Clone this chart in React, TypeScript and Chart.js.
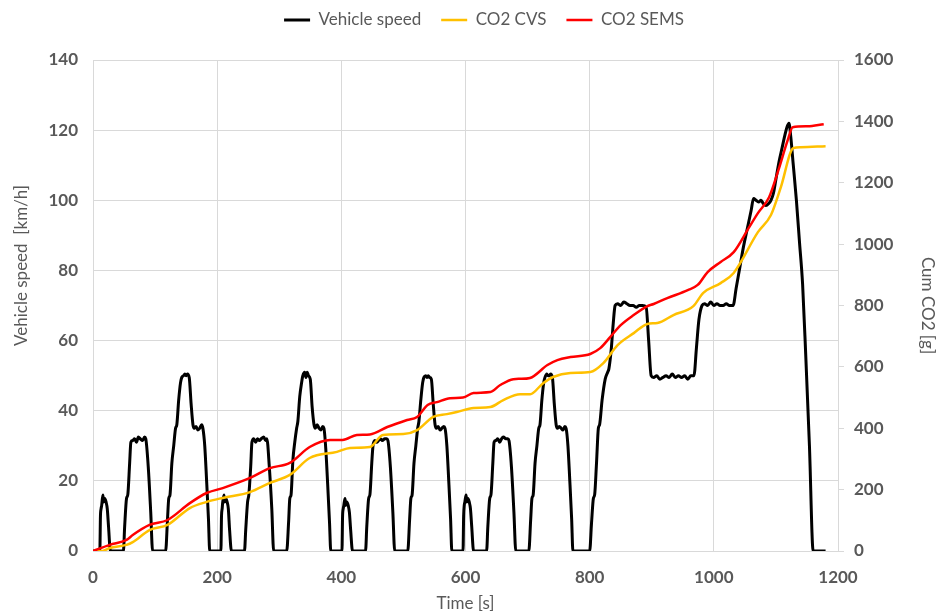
import React, { useEffect, useRef } from 'react';
import { Chart, registerables } from 'chart.js';

Chart.register(...registerables);

// Vehicle speed (NEDC-like cycle), time [s] and speed [km/h]
const speedTime = [
  0, 11, 12, 13, 14, 16, 17, 19, 21, 23, 25, 28,
  49, 51, 54, 56, 59, 61, 64, 67, 70, 73, 76, 80, 83, 85, 89, 93, 96,
  117, 120, 122, 124, 127, 130, 133, 135, 138, 141, 143, 146, 148, 150, 152, 155, 158, 161, 163, 166, 169, 172, 175, 177, 180, 183, 186, 188, 195,
  206, 207, 208, 209, 211, 212, 214, 216, 218, 220, 223,
  244, 246, 249, 251, 254, 256, 259, 262, 265, 268, 271, 275, 278, 280, 284, 288, 291,
  312, 315, 317, 319, 322, 325, 328, 330, 333, 336, 338, 341, 343, 345, 347, 350, 353, 356, 358, 361, 364, 367, 370, 372, 375, 378, 381, 383, 390,
  401, 402, 403, 404, 406, 407, 409, 411, 413, 415, 418,
  439, 441, 444, 446, 449, 451, 454, 457, 460, 463, 466, 470, 473, 475, 479, 483, 486,
  507, 510, 512, 514, 517, 520, 523, 525, 528, 531, 533, 536, 538, 540, 542, 545, 548, 551, 553, 556, 559, 562, 565, 567, 570, 573, 576, 578, 585,
  596, 597, 598, 599, 601, 602, 604, 606, 608, 610, 613,
  634, 636, 639, 641, 644, 646, 649, 652, 655, 658, 661, 665, 668, 670, 674, 678, 681,
  702, 705, 707, 709, 712, 715, 718, 720, 723, 726, 728, 731, 733, 735, 737, 740, 743, 746, 748, 751, 754, 757, 760, 762, 765, 768, 771, 773, 780,
  800, 803, 806, 808, 811, 814, 816, 820, 825, 829,
  831, 835, 838, 841, 845, 850, 855, 860, 865, 870,
  875, 880, 885, 891, 895, 899, 903, 908, 913, 918,
  923, 928, 933, 938, 943, 948, 953, 958, 963, 968,
  972, 976, 981, 985, 990, 995, 1000, 1005, 1010, 1015,
  1020, 1025, 1031, 1036, 1042, 1048, 1054,
  1060, 1064, 1068, 1072, 1076, 1080, 1084, 1088, 1092, 1096, 1100, 1105, 1110, 1115, 1118, 1121, 1124, 1128, 1133, 1138, 1143, 1148, 1154, 1160, 1180,
];
const speedValue = [
  0, 0, 10, 12, 13, 16, 14, 15, 14, 12, 7, 0,
  0, 7, 15, 16, 25, 31, 31.5, 32, 31, 32.5, 32, 31.5, 32.5, 32, 24, 11, 0,
  0, 9, 15, 16, 25, 30, 35, 36, 43, 48, 49.5, 50, 50.5, 50, 50.5, 49.5, 42, 36, 35, 35.5, 34.5, 35, 36, 35, 30, 20, 9, 0, 0,
  0, 10, 12, 14, 16, 14, 15, 14, 12, 6, 0,
  0, 6, 14, 16, 24, 31, 32, 31, 32, 31.5, 32, 32.5, 31.5, 32, 24, 12, 0,
  0, 8, 15, 16, 26, 31, 35, 37, 44, 48, 50, 51, 49.5, 51, 50, 49, 41, 36, 35, 36, 35, 34.5, 35.5, 35, 29, 19, 8, 0, 0,
  0, 10, 12, 13, 15, 13, 14, 13, 11, 6, 0,
  0, 7, 15, 16, 25, 30, 31.5, 31, 31.5, 32, 31.5, 32, 32, 31.5, 24, 11, 0,
  0, 9, 15, 16, 25, 30, 35, 37, 43, 48, 49.5, 50, 49.5, 50, 49.5, 49, 42, 36, 35, 35.5, 34.5, 35, 35.5, 35, 30, 20, 9, 0, 0,
  0, 10, 13, 14, 16, 14, 15, 14, 12, 7, 0,
  0, 7, 15, 16, 25, 31, 31.5, 32, 31, 32, 32.5, 32, 32, 31.5, 24, 11, 0,
  0, 9, 15, 16, 25, 30, 35, 36, 43, 48, 49.5, 50.5, 50, 50, 50.5, 49.5, 42, 36, 35, 35.5, 35, 34.5, 35.5, 35, 30, 20, 9, 0, 0,
  0, 8, 15, 16, 25, 35, 36, 43, 49, 51,
  52, 58, 65, 70, 70.5, 70, 71, 70.5, 70, 70,
  69.5, 70, 70, 69.5, 60, 50, 49.5, 50, 49, 49.5,
  50, 49.5, 50.5, 49.5, 50, 49.5, 50, 49, 50, 50,
  58, 66, 70, 70.5, 70, 71, 70, 70.5, 70, 70,
  70.5, 70, 70, 75, 81, 87, 92,
  97, 100.5, 100, 99.5, 100, 99, 98.5, 99, 100, 102, 106, 111, 115, 119, 121, 122, 118, 110, 100, 88, 76, 56, 30, 0, 0,
];

// Cumulative CO2 measured by CVS [g]
const cvsTime = [
  0, 15, 27, 54, 64, 91, 120, 156, 183, 209, 253, 285, 317, 349, 393, 414, 446, 467, 500, 522,
  548, 570, 586, 613, 640, 661, 688, 704, 725, 741, 769, 801, 822, 845, 871, 893, 909, 935, 967, 983,
  1011, 1032, 1071, 1092, 1108, 1128, 1140, 1180,
];
const cvsValue = [
  0, 0, 10, 20, 29, 68, 85, 140, 160, 173, 192, 222, 248, 303, 323, 336, 339, 378, 381, 394,
  437, 446, 453, 466, 469, 492, 511, 511, 547, 567, 580, 583, 612, 671, 710, 740, 743, 769, 798, 841,
  873, 906, 1039, 1095, 1186, 1313, 1316, 1319,
];

// Cumulative CO2 measured by SEMS [g]
const semsTime = [
  0, 27, 54, 64, 91, 120, 156, 183, 209, 253, 285, 317, 349, 382, 402, 425, 446, 474, 506, 522,
  539, 554, 575, 596, 613, 640, 656, 677, 688, 704, 732, 748, 769, 801, 817, 833, 850, 871, 893, 903,
  925, 958, 974, 990, 1011, 1032, 1056, 1071, 1089, 1104, 1119, 1127, 1151, 1177,
];
const semsValue = [
  0, 20, 36, 52, 85, 101, 156, 189, 205, 238, 270, 287, 339, 362, 362, 378, 380, 404, 427, 437,
  476, 485, 498, 500, 515, 518, 541, 560, 561, 564, 606, 622, 632, 642, 661, 697, 736, 769, 798, 805,
  824, 850, 867, 909, 942, 974, 1052, 1101, 1153, 1241, 1339, 1381, 1384, 1391,
];

const seriesLabels = ['Vehicle speed', 'CO2 CVS', 'CO2 SEMS'];
const seriesColors = ['#000000', '#FFC000', '#FF0000'];
const leftTitle = 'Vehicle speed  [km/h]';
const rightTitle = 'Cum CO2 [g]';
const bottomTitle = 'Time [s]';

const TEXT = '#595959';
const GRID = '#D9D9D9';
const FONT = 'Lato';
const LEGEND_PAD = 20;

const pts = (t: number[], v: number[]) => t.map((x, i) => ({ x, y: v[i] }));

const leftTitlePlugin = {
  id: 'leftTitle',
  afterDraw(chart: any) {
    const { ctx, chartArea } = chart;
    ctx.save();
    ctx.translate(22, (chartArea.top + chartArea.bottom) / 2 - 40);
    ctx.rotate(-Math.PI / 2);
    ctx.font = `17px ${FONT}`;
    ctx.fillStyle = TEXT;
    ctx.textAlign = 'center';
    ctx.textBaseline = 'middle';
    ctx.fillText(leftTitle, 0, 0);
    ctx.restore();
  },
};

// place the legend row near the top edge, slightly right of centre
const legendPlacePlugin = {
  id: 'legendPlace',
  afterLayout(chart: any) {
    const l = chart.legend;
    if (!l) return;
    const h = l.height;
    l.top = 20 - 8.5 - LEGEND_PAD;
    l.bottom = l.top + h;
    l.left += 13;
    l.right += 13;
  },
};

export default function App() {
  const ref = useRef<HTMLCanvasElement>(null);
  useEffect(() => {
    document.body.style.margin = '0';
    const chart = new Chart(ref.current as HTMLCanvasElement, {
      type: 'line',
      plugins: [leftTitlePlugin, legendPlacePlugin],
      data: {
        datasets: [
          {
            label: seriesLabels[0],
            data: pts(speedTime, speedValue),
            borderColor: seriesColors[0],
            backgroundColor: seriesColors[0],
            borderWidth: 3,
            pointRadius: 0,
            cubicInterpolationMode: 'monotone',
            yAxisID: 'y',
            order: 3,
          },
          {
            label: seriesLabels[1],
            data: pts(cvsTime, cvsValue),
            borderColor: seriesColors[1],
            backgroundColor: seriesColors[1],
            borderWidth: 2.5,
            pointRadius: 0,
            cubicInterpolationMode: 'monotone',
            yAxisID: 'y1',
            order: 2,
          },
          {
            label: seriesLabels[2],
            data: pts(semsTime, semsValue),
            borderColor: seriesColors[2],
            backgroundColor: seriesColors[2],
            borderWidth: 2.5,
            pointRadius: 0,
            cubicInterpolationMode: 'monotone',
            yAxisID: 'y1',
            order: 1,
          },
        ],
      },
      options: {
        animation: false,
        responsive: true,
        maintainAspectRatio: false,
        layout: { padding: { top: 0, left: 0, right: 0, bottom: 0 } },
        plugins: {
          tooltip: { enabled: false },
          legend: {
            position: 'top',
            labels: {
              usePointStyle: true,
              pointStyle: 'line',
              pointStyleWidth: 26,
              color: TEXT,
              font: { family: FONT, size: 17 },
              padding: LEGEND_PAD,
              sort: (a: any, b: any) => a.datasetIndex - b.datasetIndex,
            },
          },
        },
        scales: {
          x: {
            type: 'linear',
            min: 0,
            max: 1200,
            afterFit: (s: any) => { s.height = 63; },
            ticks: {
              stepSize: 200,
              color: TEXT,
              font: { family: FONT, size: 17, weight: 'bold' },
              padding: 16,
              maxRotation: 0,
              callback: (v: any) => String(v),
            },
            grid: { color: GRID, drawTicks: false, lineWidth: 1 },
            border: { color: GRID },
            title: { display: true, text: bottomTitle, color: TEXT, font: { family: FONT, size: 17 }, padding: { top: 0, bottom: 0 } },
          },
          y: {
            position: 'left',
            min: 0,
            max: 140,
            afterFit: (s: any) => { s.width = 93; s.paddingTop = 60; },
            ticks: {
              stepSize: 20,
              color: TEXT,
              font: { family: FONT, size: 17, weight: 'bold' },
              padding: 15,
              callback: (v: any) => String(v),
            },
            grid: { color: GRID, drawTicks: false },
            border: { color: GRID },
          },
          y1: {
            position: 'right',
            min: 0,
            max: 1600,
            afterFit: (s: any) => { s.width = 104; s.paddingTop = 60; },
            ticks: {
              stepSize: 200,
              color: TEXT,
              font: { family: FONT, size: 17, weight: 'bold' },
              padding: 10,
              callback: (v: any) => String(v),
            },
            grid: { color: GRID, drawOnChartArea: false, drawTicks: true, tickLength: 6 },
            border: { color: GRID },
            title: { display: true, text: rightTitle, color: TEXT, font: { family: FONT, size: 17 }, padding: { top: 4, bottom: 0 } },
          },
        },
      },
    } as any);
    return () => chart.destroy();
  }, []);
  return (
    <div style={{ position: 'relative', width: 942, height: 614 }}>
      <canvas ref={ref} />
    </div>
  );
}
